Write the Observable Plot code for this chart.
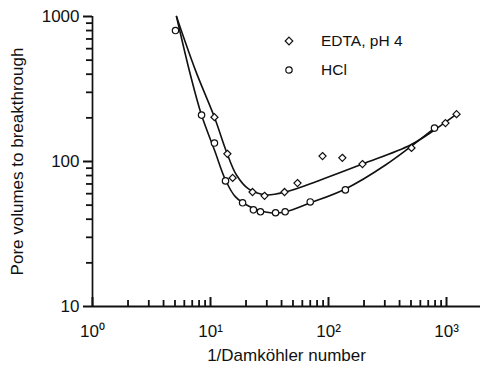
<!DOCTYPE html>
<html><head><meta charset="utf-8">
<script src="https://cdn.jsdelivr.net/npm/d3@7"></script>
<script src="https://cdn.jsdelivr.net/npm/@observablehq/plot@0.6"></script>
<style>
body{margin:0;background:#fff;font-family:"Liberation Sans",Arial,sans-serif;}
#wrap{position:relative;width:480px;height:376px;}
#legend{position:absolute;left:284px;top:26px;font-size:15.5px;color:#111;line-height:29px;}
#legend div{display:flex;align-items:center;}
#legend svg{margin-right:27px;}
</style></head><body><div id="wrap"><div id="legend"></div></div>
<script>
// Series labels
const seriesNames = ["EDTA, pH 4", "HCl"];

// Measured points (1/Damköhler number, pore volumes to breakthrough)
const edtaX = [10.8, 13.9, 15.4, 22.7, 28.7, 42.4, 54.6, 89, 131, 194, 505, 980, 1216];
const edtaY = [202, 113, 77, 61.6, 58, 61.6, 71, 109, 106, 96, 124, 184, 212];
const hclX = [5.05, 8.4, 10.8, 13.4, 18.7, 23.1, 26.5, 35.6, 42.9, 70, 139, 791];
const hclY = [800, 209, 134, 73.5, 51.9, 46.4, 45, 44.3, 45, 52.6, 63.7, 170];

// Fitted curves
const edtaFitX = [5.15, 7.46, 10.8, 13.7, 16.6, 21, 29.2, 43.2, 85.5, 194, 495, 791, 1216];
const edtaFitY = [1000, 425, 202, 116, 80.7, 64.7, 58.9, 61.6, 74.6, 96, 130, 165, 212];
const hclFitX = [5.15, 6.77, 8.39, 10.8, 13.4, 16.3, 21.8, 32.2, 43.2, 70.3, 139, 304, 791];
const hclFitY = [1000, 393, 209, 120, 74.6, 57, 48.6, 44.3, 45, 51.9, 64.7, 94.6, 170];

// Axis ticks
const xMajor = [1, 10, 100, 1000];
const xMinor = [2,3,4,5,6,7,8,9,20,30,40,50,60,70,80,90,200,300,400,500,600,700,800,900];
const yMajor = [10, 100, 1000];
const yMinor = [20,30,40,50,60,70,80,90,200,300,400,500,600,700,800,900];
const supDigits = ["⁰","¹","²","³"];

const pts = [
  ...edtaX.map((x, i) => ({x, y: edtaY[i], s: seriesNames[0]})),
  ...hclX.map((x, i) => ({x, y: hclY[i], s: seriesNames[1]}))
];
const fits = [
  ...edtaFitX.map((x, i) => ({x, y: edtaFitY[i], s: seriesNames[0]})),
  ...hclFitX.map((x, i) => ({x, y: hclFitY[i], s: seriesNames[1]}))
];

const ink = "#111";
const xLo = 1, yLo = 10;

const chart = Plot.plot({
  width: 480, height: 376,
  marginLeft: 92, marginRight: 0, marginTop: 16, marginBottom: 70,
  style: {fontFamily: "'Liberation Sans', Arial, sans-serif", fontSize: "14px", color: ink, background: "#fff"},
  x: {type: "log", domain: [1, 1941]},
  y: {type: "log", domain: [10, 1000]},
  symbol: {domain: seriesNames, range: ["diamond2", "circle"]},
  marks: [
    Plot.axisY(yMajor, {tickSize: 0, tickPadding: 13, tickFormat: d => String(d), fontSize: 17,
      label: "Pore volumes to breakthrough", labelAnchor: "center", labelOffset: 82, labelArrow: "none"}),
    Plot.axisX(xMajor, {tickSize: 0, tickPadding: 18, fontSize: 17,
      tickFormat: d => "10" + supDigits[Math.round(Math.log10(d))],
      label: "1/Damköhler number", labelAnchor: "center", labelOffset: 54, labelArrow: "none"}),
    Plot.ruleY([10], {stroke: ink, strokeWidth: 2}),
    Plot.ruleX([1], {stroke: ink, strokeWidth: 1.7}),
    Plot.line(fits, {x: "x", y: "y", z: "s", stroke: ink, strokeWidth: 1.6, curve: "catmull-rom"}),
    Plot.dot(pts, {x: "x", y: "y", symbol: "s", r: 3.2, stroke: ink, strokeWidth: 1.2, fill: "#fff"}),
    // y-axis ticks (outward, to the left)
    Plot.ruleY(yMinor, {x1: xLo, x2: xLo, insetLeft: -6, stroke: ink, strokeWidth: 1.8}),
    Plot.ruleY(yMajor, {x1: xLo, x2: xLo, insetLeft: -9, stroke: ink, strokeWidth: 2}),
    // x-axis ticks (inward, upwards)
    Plot.ruleX(xMinor, {y1: yLo, y2: yLo, insetTop: -6, stroke: ink, strokeWidth: 1.8}),
    Plot.ruleX(xMajor, {y1: yLo, y2: yLo, insetTop: -9, stroke: ink, strokeWidth: 2})
  ]
});
document.getElementById("wrap").prepend(chart);

// Legend inside the plot area
const legend = document.getElementById("legend");
const glyphs = [
  '<svg width="10" height="10"><path d="M5,1.2L8.8,5L5,8.8L1.2,5Z" fill="#fff" stroke="#111" stroke-width="1.2"/></svg>',
  '<svg width="10" height="10"><circle cx="5" cy="5" r="3.2" fill="#fff" stroke="#111" stroke-width="1.2"/></svg>'
];
seriesNames.forEach((name, i) => {
  const row = document.createElement("div");
  row.innerHTML = glyphs[i] + "<span>" + name + "</span>";
  legend.appendChild(row);
});
</script>
</body></html>
